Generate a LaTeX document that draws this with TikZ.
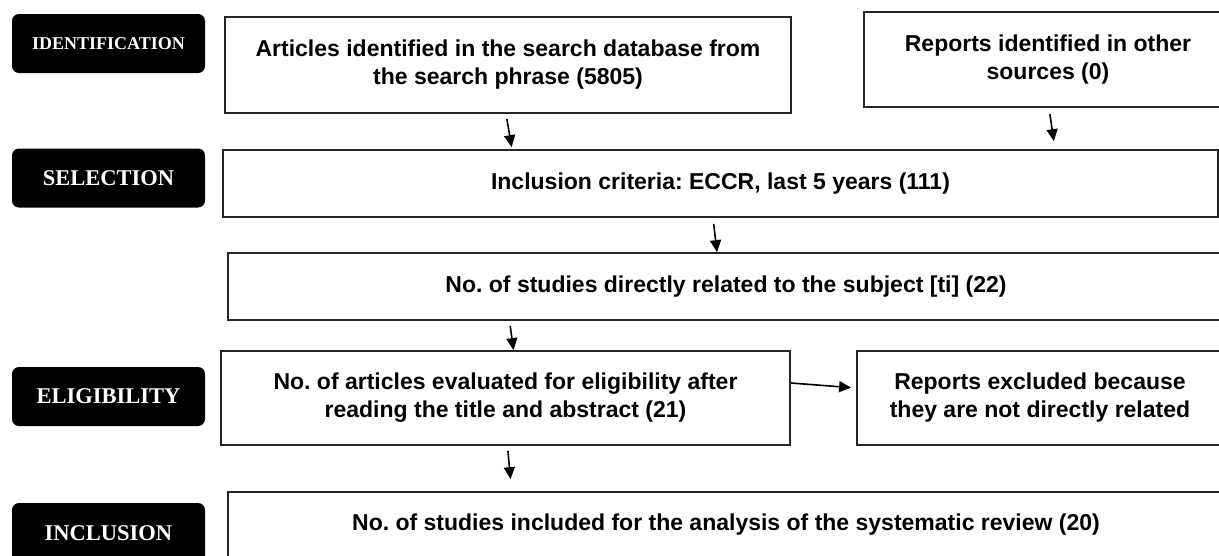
\documentclass[tikz,border=0pt]{standalone}
\usepackage{fontspec}
\setmainfont{Liberation Sans}
\newfontfamily\phasefont{Liberation Serif}
\usetikzlibrary{arrows.meta}
\begin{document}
\frenchspacing
\begin{tikzpicture}[x=1pt,y=-1pt,
    box/.style={draw=black!85,line width=1.8pt,inner sep=0pt,align=center,
      font=\bfseries\fontsize{23}{28}\selectfont},
    phase/.style={fill=black,rounded corners=7pt,text=white,inner sep=0pt,
      minimum width=193pt,minimum height=59pt,
      font=\phasefont\bfseries\fontsize{22.5}{26}\selectfont},
    arr/.style={-{Triangle[length=12pt,width=11pt]},line width=1.6pt}]
  \useasboundingbox (0,0) rectangle (1219,555);
  \draw
    (108.5,43.5) node[phase,font=\phasefont\bfseries\fontsize{18}{20}\selectfont] (id){IDENTIFICATION}
    (108.5,178) node[phase] (sel){SELECTION}
    (108.5,396.5) node[phase] (eli){ELIGIBILITY}
    (108.5,533) node[phase,minimum height=60pt] (inc){INCLUSION};
  \draw
    (508,65) node[box,minimum width=566pt,minimum height=96pt] (art)
      {Articles identified in the search database from\\the search phrase (5805)}
    (1048,59.5) node[box,minimum width=368pt,minimum height=95pt] (oth)
      {Reports identified in other\\sources (0)}
    (720.5,183.5) node[box,minimum width=995pt,minimum height=67pt] (crit)
      {Inclusion criteria: ECCR, last 5 years (111)}
    (726,286.5) node[box,minimum width=996pt,minimum height=67pt] (stud)
      {No. of studies directly related to the subject [ti] (22)}
    (505.5,398) node[box,minimum width=569pt,minimum height=94pt] (elig)
      {No. of articles evaluated for eligibility after\\reading the title and abstract (21)}
    (1040,398) node[box,minimum width=366pt,minimum height=94pt] (excl)
      {Reports excluded because\\they are not directly related}
    (726,525) node[box,minimum width=996pt,minimum height=66pt] (fin)
      {No. of studies included for the analysis of the systematic review (20)};
  \begin{scope}[arr]
    \draw[shorten <=5pt,shorten >=2pt] ([xshift=-2pt]art.south) -- ([xshift=4pt]art.south |- crit.north);
    \draw[shorten <=6pt,shorten >=8pt] ([xshift=1pt]oth.south) -- ([xshift=7pt]oth.south |- crit.north);
    \draw[shorten <=6pt] ([xshift=-7.5pt]crit.south) -- ([xshift=-3.5pt]crit.south |- stud.north);
    \draw[shorten <=5pt] ([xshift=4pt]elig.north |- stud.south) -- ([xshift=8pt]elig.north);
    \draw[shorten <=5pt,shorten >=12pt] ([xshift=2pt]elig.south) -- ([xshift=6pt]elig.south |- fin.north);
    \draw[shorten >=5pt] ([yshift=15pt]elig.east) -- ([yshift=10pt]excl.west);
  \end{scope}
\end{tikzpicture}
\end{document}
